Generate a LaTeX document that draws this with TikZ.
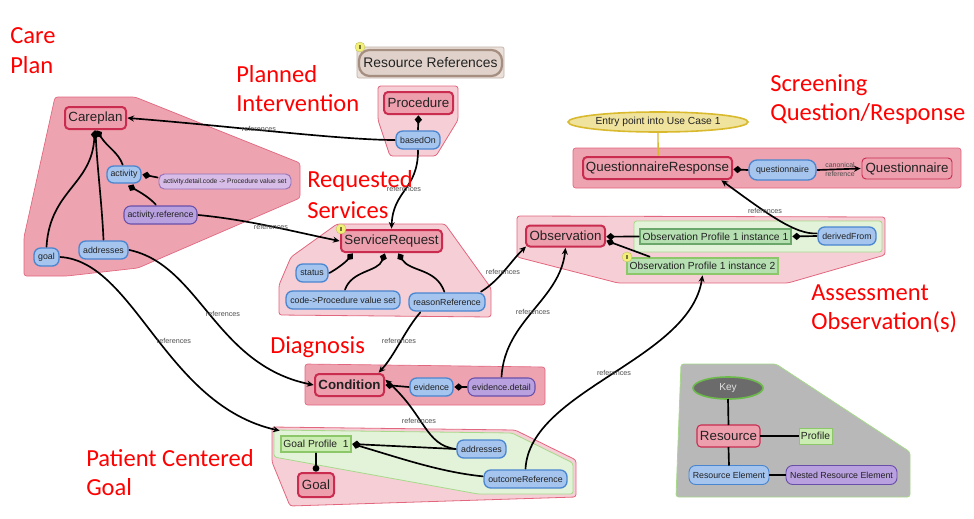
\documentclass[tikz,border=0pt]{standalone}
\usepackage{fontspec}
\setmainfont{Liberation Sans}
\newfontfamily\redfont{Carlito}
\usetikzlibrary{arrows.meta,calc,shapes.geometric}
\definecolor{hullA}{HTML}{EDA3B0}
\definecolor{hullB}{HTML}{F6CFD6}
\definecolor{hullE}{HTML}{E2667E}
\definecolor{resF}{HTML}{EE9FAE}
\definecolor{resE}{HTML}{C92C4E}
\definecolor{bluF}{HTML}{A5C5EF}
\definecolor{bluE}{HTML}{4A86CF}
\definecolor{purF}{HTML}{B9A0DF}
\definecolor{purE}{HTML}{6A4FA8}
\definecolor{lpuF}{HTML}{D6BCE6}
\definecolor{lpuE}{HTML}{9670B8}
\definecolor{grnH}{HTML}{E3F3D9}
\definecolor{grnE}{HTML}{A6D98A}
\definecolor{prfF}{HTML}{B6DFB2}
\definecolor{prfE}{HTML}{6BA66B}
\definecolor{gpF}{HTML}{CBECB2}
\definecolor{gpE}{HTML}{8CC86A}
\definecolor{tanF}{HTML}{E0D2CA}
\definecolor{tanE}{HTML}{A58E80}
\definecolor{tanH}{HTML}{EADFD9}
\definecolor{goldF}{HTML}{F0E39E}
\definecolor{goldE}{HTML}{D9B92E}
\definecolor{txt}{HTML}{222222}
\definecolor{noteY}{HTML}{F3F07A}
\definecolor{noteK}{HTML}{77773A}
\definecolor{keyE}{HTML}{6CBB4A}
\tikzset{
 nw/.style={minimum width=#1*0.75pt},
 nh/.style={minimum height=#1*0.75pt},
 base/.style={inner sep=0pt,outer sep=1pt,align=center,text=txt,rounded corners=3pt},
 resnode/.style={base,draw=resE,fill=resF,line width=1.5pt,font=\fontsize{10}{12}\selectfont},
 bluenode/.style={base,draw=bluE,fill=bluF,line width=1pt,rounded corners=5pt,font=\fontsize{6.6}{8}\selectfont},
 purnode/.style={base,draw=purE,fill=purF,line width=.8pt,rounded corners=5pt,font=\fontsize{6.6}{8}\selectfont},
 prfnode/.style={base,rounded corners=0pt,draw=prfE,fill=prfF,line width=1.2pt,font=\fontsize{7.7}{9}\selectfont},
 hullp/.style={fill=hullA,draw=hullE,line width=.5pt,rounded corners=2pt},
 hulll/.style={fill=hullB,draw=hullE,line width=.6pt,rounded corners=2pt},
 hullg/.style={fill=grnH,draw=grnE,line width=.6pt,rounded corners=2pt},
 reflabel/.style={inner sep=0pt,text=black!70,font=\fontsize{5.4}{6.2}\selectfont,align=center},
 redlabel/.style={inner sep=0pt,anchor=west,text=red,font=\redfont\fontsize{18.4}{20}\selectfont},
 notedot/.style={circle,fill=noteY,draw=noteY!80!black,line width=.3pt,minimum size=7.5pt,inner sep=0pt},
 link/.style={black,line width=1.25pt,line cap=round},
 dia/.style={link,-{Diamond[length=6.5pt,width=5.5pt]}},
 ref/.style={link,-{Stealth[length=5pt,width=4.5pt]}},
}
\begin{document}
\begin{tikzpicture}[x=0.75pt,y=-0.75pt]
\useasboundingbox (0,0) rectangle (974,518);
% hulls
\draw[hullp] (55,97)--(135,97)--(300,163)--(300,198)--(138,268)--(67,276)--(24,276)--(24,237)--cycle;
\draw[fill=tanH,draw=tanE!70,line width=.5pt,rounded corners=1.5pt] (357,47) rectangle (504,78);
\draw[hulll] (378,86)--(458,86)--(458,120)--(436,156)--(390,156)--(378,120)--cycle;
\draw[hulll] (337,224)--(445,224)--(491,288)--(491,317)--(279,315)--(279,285)--(291,257)--cycle;
\draw[hullp] (573,148) rectangle (961,188);
\draw[hulll] (517,216)--(885,217)--(885,255)--(788,283)--(618,283)--(517,257)--cycle;
\draw[hullg] (634,221) rectangle (882,252);
\draw[hullp] (305,364)--(545,367)--(545,405)--(305,405)--cycle;
\draw[hulll] (272,427)--(515,430)--(576,460)--(576,497)--(290,506)--(272,462)--cycle;
\draw[hullg] (274,430)--(512,433)--(573,463)--(573,494)--(478,494)--(274,457)--cycle;
\draw[fill=black!28,draw=grnE,line width=.6pt,rounded corners=2pt] (681,364)--(776,364)--(910,452)--(910,497)--(676,497)--cycle;
% nodes
\node[resnode,nw=61,nh=22] (careplan) at (95.5,118) {Careplan};
\node[bluenode,nw=34,nh=17] (activity) at (124,174.5) {activity};
\node[base,draw=lpuE,fill=lpuF,line width=.7pt,rounded corners=4pt,nw=132,nh=15,font=\fontsize{5}{6}\selectfont] (detail) at (225,181.5) {activity.detail.code -> Procedure value set};
\node[purnode,nw=73,nh=18] (actref) at (160.5,215) {activity.reference};
\node[bluenode,nw=49,nh=18] (addr) at (103.5,250) {addresses};
\node[bluenode,nw=25,nh=18] (goalel) at (46.5,257) {goal};
\node[base,draw=tanE,fill=tanF,line width=1.7pt,rounded corners=8pt,nw=143,nh=26,font=\fontsize{10.4}{12}\selectfont] (resrefs) at (430.5,63) {Resource References};
\node[resnode,nw=69,nh=22] (proc) at (418.5,103) {Procedure};
\node[bluenode,nw=44,nh=18] (based) at (418,140) {basedOn};
\node[resnode,nw=101,nh=22] (sr) at (391.5,241) {ServiceRequest};
\node[bluenode,nw=32,nh=18] (status) at (312,273) {status};
\node[bluenode,nw=114,nh=18] (code) at (343,300) {code->Procedure value set};
\node[bluenode,nw=76,nh=18] (reason) at (447,302) {reasonReference};
\node[ellipse,inner sep=0pt,outer sep=0pt,draw=goldE,fill=goldF,line width=1.2pt,minimum width=180*0.75pt,minimum height=20*0.75pt,text=txt,font=\fontsize{7.7}{9}\selectfont] (entry) at (658,122) {Entry point into Use Case 1};
\node[resnode,nw=149,nh=22] (qr) at (657.5,168) {QuestionnaireResponse};
\node[bluenode,nw=67,nh=20,rounded corners=6pt] (qel) at (782.5,170) {questionnaire};
\node[resnode,line width=.7pt,nw=90,nh=21] (q) at (907,168.5) {Questionnaire};
\node[resnode,nw=79,nh=21] (obs) at (565.5,236) {Observation};
\node[prfnode,nw=151,nh=15] (op1) at (715.5,236.5) {Observation Profile 1 instance 1};
\node[bluenode,nw=58,nh=18] (derived) at (847,236) {derivedFrom};
\node[prfnode,draw=gpE,nw=151,nh=16] (op2) at (702.5,266) {Observation Profile 1 instance 2};
\node[resnode,nw=69,nh=22,font=\bfseries\fontsize{10}{12}\selectfont] (cond) at (349.5,385) {Condition};
\node[bluenode,nw=43,nh=18] (evid) at (431.5,387) {evidence};
\node[purnode,nw=67,nh=18] (evdet) at (501.5,387) {evidence.detail};
\node[prfnode,draw=gpE,fill=gpF,nw=70,nh=16] (gp) at (316,444) {Goal Profile\ \ 1};
\node[resnode,nw=36,nh=24] (goal) at (316,485) {Goal};
\node[bluenode,nw=49,nh=18] (addr2) at (481.5,449) {addresses};
\node[bluenode,nw=83,nh=18] (outcome) at (525.5,479) {outcomeReference};
% key
\node[ellipse,inner sep=0pt,outer sep=0pt,draw=keyE,fill=black!58,line width=1.2pt,minimum width=70*0.75pt,minimum height=22*0.75pt,text=white!88!black,font=\fontsize{7.6}{9}\selectfont] (key) at (728,388) {Key};
\node[resnode,line width=.8pt,nw=63,nh=22,outer sep=0pt] (kres) at (728.5,436) {Resource};
\node[prfnode,draw=gpE,fill=gpF,line width=.7pt,outer sep=0pt,nw=33,nh=16] (kprf) at (815.5,436) {Profile};
\node[bluenode,line width=.7pt,outer sep=0pt,nw=80,nh=19] (kel) at (729,475) {Resource Element};
\node[purnode,line width=.7pt,outer sep=0pt,nw=111,nh=19] (knest) at (841.5,475) {Nested Resource Element};
% note icons
\node[notedot] (n1) at (360,47) {};
\node[notedot] (n2) at (341,229) {};
\node[notedot] (n3) at (627,257) {};
\fill[noteK] (358.6,45.4) rectangle (361.4,48.6);
\fill[noteK] (339.6,227.4) rectangle (342.4,230.6);
\fill[noteK] (625.6,255.4) rectangle (628.4,258.6);
% connectors
\draw[dia] (goalel.north) .. controls (50,190) and (92,185) .. ([xshift=-.6pt]careplan.south);
\draw[dia] (addr.north) .. controls (102,205) and (97,165) .. (careplan.south);
\draw[dia] ([xshift=-1pt]activity.north) .. controls (118,152) and (108,148) .. ([xshift=.8pt]careplan.south);
\draw[dia] ([yshift=3pt]detail.west) -- (activity.east);
\draw[dia] ([xshift=-3.5pt]actref.north) .. controls (150,198) and (140,192) .. ([xshift=3pt,yshift=-1pt]activity.south);
\draw[ref] (based.west) .. controls (340,140) and (220,125) .. (careplan.east);
\draw[dia] (based.north) -- (proc.south);
\draw[ref] (based.south) .. controls (418,190) and (393,190) .. (sr.north);
\draw[ref] (actref.east) .. controls (250,220) and (295,232) .. (sr.west);
\draw[ref] (goalel.east) .. controls (135,262) and (165,405) .. ([yshift=3pt]gp.north west);
\draw[ref] (addr.east) .. controls (200,265) and (215,365) .. (cond.west);
\draw[dia] (status.east) .. controls (335,270) and (345,263) .. ([xshift=-29pt]sr.south);
\draw[dia] ([xshift=1.5pt]code.north) .. controls (352,270) and (378,272) .. ([xshift=-5pt]sr.south);
\draw[dia] ([xshift=-2pt]reason.north) .. controls (436,268) and (410,272) .. ([xshift=5pt]sr.south);
\draw[ref] ([xshift=-4pt]reason.north east) .. controls (500,280) and (510,262) .. ([xshift=1pt,yshift=1pt]obs.south west);
\draw[ref] ([xshift=-20pt]reason.south) .. controls (405,330) and (395,355) .. ([xshift=-5pt]cond.north east);
\draw[ref] (evdet.north) .. controls (505,320) and (560,300) .. (obs.south);
\draw[dia] (evid.west) -- (cond.east);
\draw[dia] (evdet.west) -- (evid.east);
\draw[ref] (addr2.west) .. controls (425,445) and (425,415) .. ([yshift=4pt]cond.east);
\draw[dia] (addr2.west) -- (gp.east);
\draw[dia] ([yshift=2pt]outcome.west) .. controls (440,472) and (400,458) .. (gp.east);
\draw[ref] (outcome.north) .. controls (530,390) and (690,360) .. (op2.south);
\draw[link,-{Circle[length=5pt,width=5pt]}] (gp.south) -- (goal.north);
\draw[dia] (op1.west) -- ([yshift=-.5pt]obs.east);
\draw[dia] ([xshift=18pt]op2.north west) -- ([yshift=-3.5pt]obs.east);
\draw[dia] (derived.west) -- (op1.east);
\draw[ref] ([yshift=2pt]derived.west) .. controls (795,235) and (765,212) .. ([xshift=-9pt]qr.south east);
\draw[dia] (qel.west) -- ([yshift=-1pt]qr.east);
\draw[ref] (qel.east) -- (q.west);
\draw[goldE,line width=1pt] (entry.south) -- ([xshift=.5pt]qr.north);
\draw[black,line width=1.25pt] (key.south) -- (kres.north);
\draw[black,line width=1.25pt] (kres.east) -- (kprf.west);
\draw[black,line width=1.25pt] (kres.south) -- (kel.north);
\draw[black,line width=1.25pt] (kel.east) -- (knest.west);
% edge labels
\node[reflabel] (r1) at (259,129) {references};
\node[reflabel] (r2) at (404,189) {references};
\node[reflabel] (r3) at (271,227) {references};
\node[reflabel] (r4) at (503,272) {references};
\node[reflabel] (r5) at (223,314) {references};
\node[reflabel] (r6) at (174,341) {references};
\node[reflabel] (r7) at (399,341) {references};
\node[reflabel] (r8) at (533,312) {references};
\node[reflabel] (r9) at (419,421) {references};
\node[reflabel] (r10) at (614,373) {references};
\node[reflabel] (r11) at (765,211) {references};
\node[reflabel,font=\fontsize{5.2}{7}\selectfont] (r12) at (840,169.5) {canonical\\reference};
% red titles
\node[redlabel] (t1) at (10,36) {Care};
\node[redlabel] (t2) at (10,65) {Plan};
\node[redlabel] (t3) at (236,74) {Planned};
\node[redlabel] (t4) at (236,103) {Intervention};
\node[redlabel] (t5) at (307,181) {Requested};
\node[redlabel] (t6) at (307,210) {Services};
\node[redlabel] (t7) at (770,85) {Screening};
\node[redlabel] (t8) at (770,114) {Question/Response};
\node[redlabel] (t9) at (811,293) {Assessment};
\node[redlabel] (t10) at (811,322) {Observation(s)};
\node[redlabel] (t11) at (270,347) {Diagnosis};
\node[redlabel] (t12) at (86,458) {Patient Centered};
\node[redlabel] (t13) at (86,487) {Goal};
\end{tikzpicture}
\end{document}
